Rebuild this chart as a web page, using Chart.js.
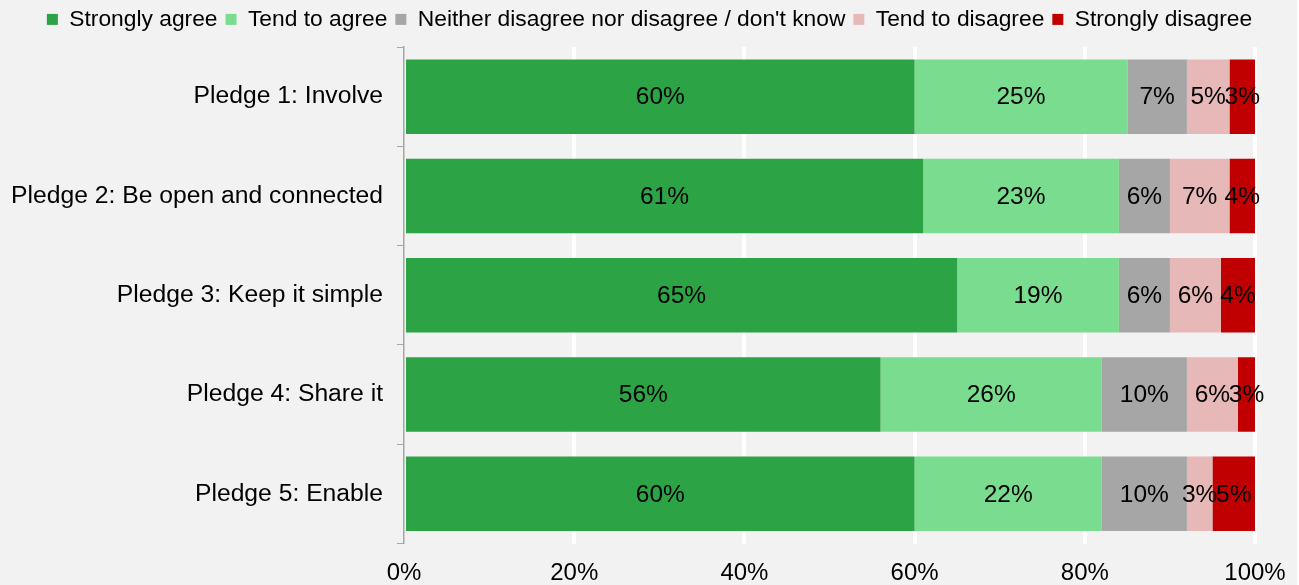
<!DOCTYPE html>
<html>
<head>
<meta charset="utf-8">
<title>Pledges</title>
<script src="https://cdn.jsdelivr.net/npm/chart.js@4/dist/chart.umd.min.js"></script>
<style>
  html, body { margin: 0; padding: 0; background: #fff; }
  #wrap { width: 1299px; height: 585px; }
</style>
</head>
<body>
<div id="wrap"><canvas id="chart" width="1299" height="585"></canvas></div>
<script>
  var FONT = '"Liberation Sans", Arial, Helvetica, sans-serif';

  var categories = [
    'Pledge 1: Involve',
    'Pledge 2: Be open and connected',
    'Pledge 3: Keep it simple',
    'Pledge 4: Share it',
    'Pledge 5: Enable'
  ];

  var stronglyAgree    = [60, 61, 65, 56, 60];
  var tendToAgree      = [25, 23, 19, 26, 22];
  var neitherDontKnow  = [7, 6, 6, 10, 10];
  var tendToDisagree   = [5, 7, 6, 6, 3];
  var stronglyDisagree = [3, 4, 4, 3, 5];

  var xTicks = [0, 20, 40, 60, 80, 100];

  function series(label, data, color) {
    return {
      label: label,
      data: data,
      backgroundColor: color,
      borderWidth: 0,
      barPercentage: 0.75,
      categoryPercentage: 1
    };
  }

  // grey page, right edge left white
  var background = {
    id: 'background',
    beforeDraw: function(chart) {
      var ctx = chart.ctx;
      ctx.save();
      ctx.fillStyle = '#f2f2f2';
      ctx.fillRect(0, 0, 1297, chart.height);
      ctx.restore();
    }
  };

  // fixed legend band above the plot
  var legendBand = {
    id: 'legendBand',
    beforeInit: function(chart) {
      var fit = chart.legend.fit;
      chart.legend.fit = function() {
        fit.call(this);
        this.height = 47;
      };
    }
  };

  // percentage in the middle of each segment
  var segmentLabels = {
    id: 'segmentLabels',
    afterDatasetsDraw: function(chart) {
      var ctx = chart.ctx;
      var area = chart.chartArea;
      ctx.save();
      ctx.font = '24.5px ' + FONT;
      ctx.fillStyle = '#000';
      ctx.textAlign = 'center';
      ctx.textBaseline = 'middle';
      chart.data.datasets.forEach(function(ds, i) {
        chart.getDatasetMeta(i).data.forEach(function(bar, j) {
          var p = bar.getProps(['x', 'base', 'y'], true);
          var left = Math.max(Math.min(p.x, p.base), area.left);
          var right = Math.min(Math.max(p.x, p.base), area.right);
          ctx.fillText(ds.data[j] + '%', (left + right) / 2, p.y + 1);
        });
      });
      ctx.restore();
    }
  };

  new Chart(document.getElementById('chart'), {
    type: 'bar',
    data: {
      labels: categories,
      datasets: [
        series('Strongly agree', stronglyAgree, '#2ca345'),
        series('Tend to agree', tendToAgree, '#7adc8e'),
        series('Neither disagree nor disagree / don\'t know', neitherDontKnow, '#a6a6a6'),
        series('Tend to disagree', tendToDisagree, '#e6b8b7'),
        series('Strongly disagree', stronglyDisagree, '#c00000')
      ]
    },
    options: {
      indexAxis: 'y',
      responsive: false,
      animation: false,
      layout: { padding: 0 },
      plugins: {
        legend: {
          position: 'top',
          labels: {
            boxWidth: 11,
            boxHeight: 11,
            padding: 8,
            color: '#000',
            font: { family: FONT, size: 22.8 }
          }
        },
        tooltip: { enabled: false }
      },
      scales: {
        x: {
          stacked: true,
          min: 0,
          max: 100,
          afterBuildTicks: function(scale) {
            scale.ticks = xTicks.map(function(v) { return { value: v }; });
          },
          afterFit: function(scale) {
            scale.height = 41.5;
            scale.paddingRight = 44;
          },
          border: { display: false },
          grid: {
            drawTicks: false,
            lineWidth: 4,
            color: function(c) { return c.tick && c.tick.value === 0 ? 'rgba(0,0,0,0)' : '#ffffff'; }
          },
          ticks: {
            padding: 15,
            color: '#000',
            font: { family: FONT, size: 24 },
            callback: function(v) { return v + '%'; }
          }
        },
        y: {
          stacked: true,
          afterFit: function(scale) {
            scale.width = 404;
          },
          border: { display: true, color: '#a6a6a6', width: 1.5 },
          grid: {
            offset: true,
            drawOnChartArea: false,
            drawTicks: true,
            tickLength: 7,
            color: '#a6a6a6'
          },
          ticks: {
            padding: 14,
            color: '#000',
            font: { family: FONT, size: 24.7 }
          }
        }
      }
    },
    plugins: [background, legendBand, segmentLabels]
  });
</script>
</body>
</html>
